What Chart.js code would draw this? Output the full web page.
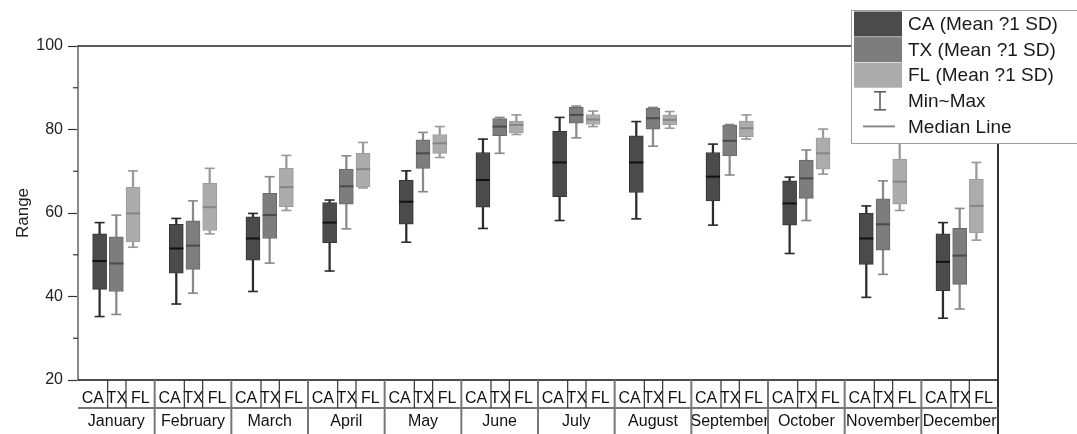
<!DOCTYPE html>
<html>
<head>
<meta charset="utf-8">
<script src="https://cdn.jsdelivr.net/npm/chart.js@4.4.1/dist/chart.umd.min.js"></script>
<style>
  html, body { margin: 0; padding: 0; background: #fff; }
  canvas { display: block; }
</style>
</head>
<body>
<canvas id="chart" width="1077" height="434"></canvas>
<script>
const months = ["January", "February", "March", "April", "May", "June",
  "July", "August", "September", "October", "November", "December"];
const states = ["CA", "TX", "FL"];
const legendLabels = ["CA (Mean ?1 SD)", "TX (Mean ?1 SD)", "FL (Mean ?1 SD)", "Min~Max", "Median Line"];
const yTickValues = [20, 40, 60, 80, 100];

// one value per month
const caMin  = [35.2, 38.2, 41.2, 46.1, 53.0, 56.3, 58.2, 58.6, 57.1, 50.3, 39.8, 34.8];
const caLow  = [41.7, 45.6, 48.7, 52.9, 57.3, 61.4, 63.9, 64.9, 62.9, 57.1, 47.7, 41.4];
const caMed  = [48.5, 51.5, 53.9, 57.7, 62.7, 67.9, 72.1, 72.1, 68.7, 62.3, 53.9, 48.3];
const caHigh = [55.0, 57.3, 59.1, 62.5, 67.9, 74.5, 79.6, 78.5, 74.5, 67.7, 59.9, 55.0];
const caMax  = [57.7, 58.7, 59.9, 63.1, 70.1, 77.7, 82.9, 81.9, 76.5, 68.6, 61.7, 57.7];

const txMin  = [35.7, 40.8, 48.0, 56.2, 65.1, 74.3, 78.0, 76.0, 69.1, 58.2, 45.3, 37.0];
const txLow  = [41.2, 46.5, 53.9, 62.1, 70.7, 78.5, 81.5, 80.1, 73.7, 63.5, 51.1, 42.9];
const txMed  = [47.9, 52.2, 59.5, 66.4, 74.3, 80.7, 83.5, 82.7, 77.3, 68.3, 57.3, 49.8];
const txHigh = [54.3, 58.1, 64.7, 70.5, 77.5, 82.6, 85.3, 85.1, 81.0, 72.7, 63.4, 56.3];
const txMax  = [59.5, 62.9, 68.7, 73.7, 79.3, 82.9, 85.6, 85.3, 81.2, 75.1, 67.7, 61.1];

const flMin  = [51.8, 55.0, 60.6, 66.0, 73.3, 78.8, 80.7, 80.3, 77.7, 69.3, 60.6, 53.5];
const flLow  = [53.1, 55.8, 61.5, 66.3, 74.3, 79.2, 81.2, 81.1, 78.3, 70.5, 62.1, 55.3];
const flMed  = [59.9, 61.4, 66.2, 70.5, 76.7, 81.1, 82.4, 82.3, 80.3, 74.3, 67.5, 61.7];
const flHigh = [66.2, 67.1, 70.7, 74.3, 78.8, 82.0, 83.6, 83.5, 82.0, 78.0, 72.9, 68.1];
const flMax  = [70.1, 70.7, 73.8, 76.9, 80.7, 83.5, 84.4, 84.3, 83.5, 80.1, 77.0, 72.1];

const seriesData = [
  { min: caMin, low: caLow, med: caMed, high: caHigh, max: caMax },
  { min: txMin, low: txLow, med: txMed, high: txHigh, max: txMax },
  { min: flMin, low: flLow, med: flMed, high: flHigh, max: flMax }
];

// looks
const styles = [
  { fill: "#4b4b4b", edge: "#353535", whisker: "#2b2b2b", median: "#111111" },
  { fill: "#7d7d7d", edge: "#6a6a6a", whisker: "#8a8a8a", median: "#4a4a4a" },
  { fill: "#acacac", edge: "#9c9c9c", whisker: "#9a9a9a", median: "#858585" }
];
const slotOffset = [-0.218, 0, 0.218];     // box position inside a month
const cellEdges = [0, 0.387, 0.626, 1];    // CA | TX | FL cells in the table
const FONT = "'Liberation Sans', Arial, sans-serif";

Chart.defaults.font.family = FONT;
Chart.defaults.color = "#222";

const datasets = [];
seriesData.forEach((s, k) => {
  const st = styles[k];
  const xs = months.map((m, i) => i + 0.5 + slotOffset[k]);
  datasets.push({
    type: "bar", label: states[k] + " range",
    data: xs.map((x, i) => ({ x, y: [s.min[i], s.max[i]] })),
    backgroundColor: st.whisker, barThickness: 1.6, grouped: false, order: 3
  });
  datasets.push({
    type: "bar", label: states[k],
    data: xs.map((x, i) => ({ x, y: [s.low[i], s.high[i]] })),
    backgroundColor: st.fill, borderColor: st.edge, borderWidth: 1,
    borderSkipped: false, barThickness: 14, grouped: false, order: 2
  });
  datasets.push({
    type: "line", label: states[k] + " caps", showLine: false,
    data: xs.map((x, i) => ({ x, y: s.min[i] })).concat(xs.map((x, i) => ({ x, y: s.max[i] }))),
    pointStyle: "line", pointRadius: 5, pointBorderWidth: 1.6,
    pointBorderColor: st.whisker, order: 1
  });
  datasets.push({
    type: "line", label: states[k] + " median", showLine: false,
    data: xs.map((x, i) => ({ x, y: s.med[i] })),
    pointStyle: "line", pointRadius: 7, pointBorderWidth: 2,
    pointBorderColor: st.median, order: 0
  });
});

function line(ctx, x1, y1, x2, y2, color, w) {
  ctx.strokeStyle = color;
  ctx.lineWidth = w;
  ctx.beginPath();
  ctx.moveTo(x1, y1);
  ctx.lineTo(x2, y2);
  ctx.stroke();
}

const framePlugin = {
  id: "frame",
  afterDraw(chart) {
    const { ctx, chartArea: a, scales } = chart;
    const xs = scales.x, ys = scales.y;
    const H = chart.height;
    ctx.save();

    // minor ticks
    for (let v = 30; v < 100; v += 20) {
      const py = ys.getPixelForValue(v);
      line(ctx, a.left - 5, py, a.left, py, "#333", 1.2);
    }

    // frame
    line(ctx, a.left, a.top, a.right, a.top, "#222", 1.5);
    line(ctx, a.right, a.top, a.right, H, "#333", 2);
    line(ctx, a.left, a.bottom, a.right, a.bottom, "#111", 1.5);

    // table under the plot
    const rowY = a.bottom + 28;
    line(ctx, a.left, rowY, a.right, rowY, "#777", 2);
    months.forEach((m, i) => {
      line(ctx, xs.getPixelForValue(i + cellEdges[1]), a.bottom, xs.getPixelForValue(i + cellEdges[1]), rowY, "#333", 1.2);
      line(ctx, xs.getPixelForValue(i + cellEdges[2]), a.bottom, xs.getPixelForValue(i + cellEdges[2]), rowY, "#333", 1.2);
      if (i > 0) {
        const px = xs.getPixelForValue(i);
        line(ctx, px, a.bottom, px, H, "#777", 2);
      }
    });

    // legend
    const lx = 851, ly = 10, lw = 240, lh = 133;
    ctx.fillStyle = "#fff";
    ctx.fillRect(lx, ly, lw, lh);
    ctx.strokeStyle = "#a0a0a0";
    ctx.lineWidth = 1;
    ctx.strokeRect(lx + 0.5, ly + 0.5, lw, lh);
    ctx.font = "19px " + FONT;
    ctx.textBaseline = "middle";
    ctx.textAlign = "left";
    const rowH = 25.6;
    legendLabels.forEach((txt, r) => {
      const cy = ly + 14 + r * rowH;
      if (r < 3) {
        ctx.fillStyle = styles[r].fill;
        ctx.fillRect(lx + 3, cy - 12.5, 48, 25);
      } else if (r === 3) {
        line(ctx, lx + 29, cy - 9, lx + 29, cy + 9, "#555", 1.5);
        line(ctx, lx + 23, cy - 9, lx + 35, cy - 9, "#555", 1.5);
        line(ctx, lx + 23, cy + 9, lx + 35, cy + 9, "#555", 1.5);
      } else {
        line(ctx, lx + 12, cy, lx + 44, cy, "#8a8a8a", 2);
      }
      ctx.fillStyle = "#1a1a1a";
      ctx.fillText(txt, lx + 57, cy + 1);
    });

    ctx.restore();
  }
};

new Chart(document.getElementById("chart"), {
  type: "bar",
  data: { datasets },
  options: {
    responsive: false,
    animation: false,
    layout: { padding: { top: 46, right: 79, left: 0, bottom: 0 } },
    plugins: { legend: { display: false }, tooltip: { enabled: false } },
    scales: {
      x: {
        type: "linear", position: "bottom", weight: 0,
        min: 0, max: 12, offset: false,
        grid: { display: false, drawTicks: false },
        border: { display: false },
        afterBuildTicks(scale) {
          const t = [];
          months.forEach((m, i) => {
            for (let c = 0; c < 3; c++) t.push({ value: i + (cellEdges[c] + cellEdges[c + 1]) / 2 });
          });
          scale.ticks = t;
        },
        afterFit(scale) { scale.height = 28; },
        ticks: {
          autoSkip: false, maxRotation: 0, minRotation: 0, padding: 9,
          font: { size: 16 }, color: "#111",
          callback: (v, i) => states[i % 3]
        }
      },
      x2: {
        type: "linear", position: "bottom", weight: 1,
        min: 0, max: 12, offset: false,
        grid: { display: false, drawTicks: false },
        border: { display: false },
        afterBuildTicks(scale) {
          scale.ticks = months.map((m, i) => ({ value: i + 0.5 }));
        },
        afterFit(scale) { scale.height = 26; },
        ticks: {
          autoSkip: false, maxRotation: 0, minRotation: 0, padding: 4,
          font: { size: 16 }, color: "#111",
          callback: (v, i) => months[i]
        }
      },
      y: {
        min: 20, max: 100,
        afterBuildTicks(scale) {
          scale.ticks = yTickValues.map(v => ({ value: v }));
        },
        afterFit(scale) { scale.width = 78; },
        grid: { drawOnChartArea: false, tickLength: 10, tickColor: "#333", tickWidth: 1.2 },
        border: { color: "#8a8a8a", width: 2 },
        ticks: { padding: 5, font: { size: 16 }, color: "#222" },
        title: { display: true, text: "Range", font: { size: 17 }, color: "#222", padding: { top: 13, bottom: 0 } }
      }
    }
  },
  plugins: [framePlugin]
});
</script>
</body>
</html>
